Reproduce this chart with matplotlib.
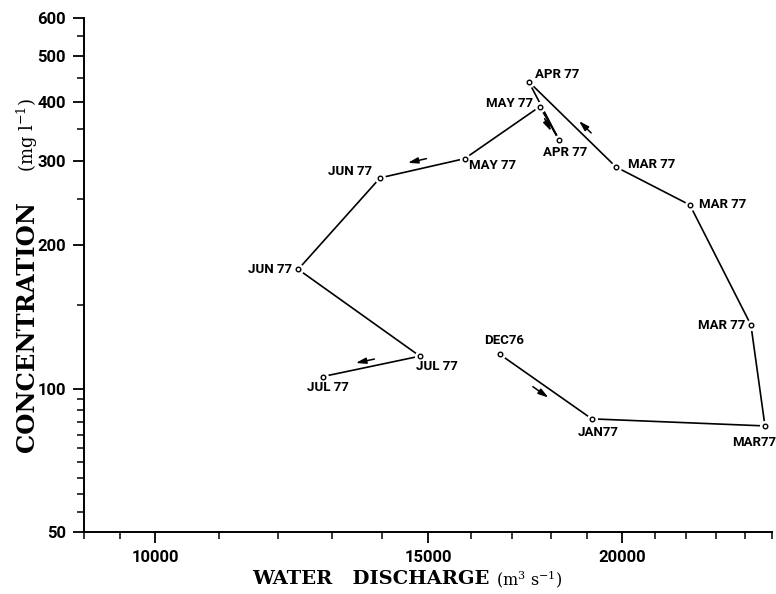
import numpy as np
import matplotlib
matplotlib.use('Agg')
import matplotlib.pyplot as plt

# Sampling dates along the hysteresis loop, Dec 1976 - Jul 1977
labels = ['DEC76', 'JAN77', 'MAR77', 'MAR 77', 'MAR 77', 'MAR 77', 'APR 77',
          'APR 77', 'MAY 77', 'MAY 77', 'JUN 77', 'JUN 77', 'JUL 77', 'JUL 77']
discharge = [16690, 19130, 24740, 24230, 22130, 19830, 17420,
             18220, 17710, 15840, 13970, 12370, 14820, 12830]      # m3 s-1
concentration = [118, 86.4, 83.5, 136, 243, 292, 441,
                 333, 391, 304, 277, 178, 117, 106]               # mg l-1

y_major = [50, 100, 200, 300, 400, 500, 600]
y_minor = [55, 60, 65, 70, 75, 80, 85, 90, 95, 150, 250, 350, 450, 550]
x_major = [10000, 15000, 20000]
x_minor = [9000, 9500, 11000, 12000, 13000, 14000, 16000, 17000, 18000,
           19000, 21000, 22000, 23000, 24000, 25000]

# label placement: (dx px, dy px, ha, va)
label_pos = [(4, 7, 'center', 'bottom'), (6, -7, 'center', 'top'),
             (-11, -10, 'center', 'top'), (-6, 0, 'right', 'center'),
             (9, 0, 'left', 'center'), (12, 2, 'left', 'center'),
             (6, 7, 'left', 'center'), (6, -6, 'center', 'top'),
             (-7, 3, 'right', 'center'), (4, -7, 'left', 'center'),
             (-8, 6, 'right', 'center'), (-6, 0, 'right', 'center'),
             (-4, -10, 'left', 'center'), (5, -4, 'center', 'top')]

# direction arrows: (segment start index, position along segment, side offset px, length px)
arrows = [(0, 0.49, -7.5, 19), (5, 0.41, -7, 17), (6, 0.72, -3, 14),
          (9, 0.54, -8.5, 19), (12, 0.55, -6.5, 19)]

plt.rcParams['mathtext.fontset'] = 'dejavuserif'
narrow = ['Roboto', 'DejaVu Sans']
heavy = ['DejaVu Serif']

fig = plt.figure(figsize=(7.76, 5.94), dpi=100)
ax = fig.add_axes([84 / 776, 62 / 594, 688 / 776, 514 / 594])
ax.set_xscale('log')
ax.set_yscale('log')
ax.set_xlim(9000, 25000)
ax.set_ylim(50, 600)

ax.plot(discharge, concentration, color='black', lw=1.2, zorder=2)
# white halo leaves a small gap between the line and each sample point
ax.plot(discharge, concentration, ls='none', marker='o', ms=7,
        mfc='white', mec='white', zorder=3)
ax.plot(discharge, concentration, ls='none', marker='o', ms=3.3,
        mfc='white', mec='black', mew=1.0, zorder=4)

for q, c, lab, (dx, dy, ha, va) in zip(discharge, concentration, labels, label_pos):
    ax.annotate(lab, (q, c), xytext=(dx, dy), textcoords='offset pixels',
                ha=ha, va=va, fontsize=9.5, fontweight='bold', family=narrow,
                annotation_clip=False, zorder=5)

fig.canvas.draw()
to_disp = ax.transData
to_data = ax.transData.inverted()
for i, t, off, length in arrows:
    p0 = to_disp.transform((discharge[i], concentration[i]))
    p1 = to_disp.transform((discharge[i + 1], concentration[i + 1]))
    u = (p1 - p0) / np.hypot(*(p1 - p0))
    n = np.array([-u[1], u[0]])
    mid = p0 + t * (p1 - p0) + off * n
    tail = to_data.transform(mid - u * length / 2)
    head = to_data.transform(mid + u * length / 2)
    ax.annotate('', xy=head, xytext=tail,
                arrowprops=dict(arrowstyle='-|>,head_length=0.6,head_width=0.18',
                                color='black', lw=1.1, shrinkA=0, shrinkB=0))

for side in ['top', 'right']:
    ax.spines[side].set_visible(False)
for side in ['left', 'bottom']:
    ax.spines[side].set_linewidth(1.4)

ax.set_yticks(y_major)
ax.set_yticks(y_minor, minor=True)
ax.set_yticklabels([str(v) for v in y_major])
ax.set_yticklabels([], minor=True)
ax.set_xticks(x_major)
ax.set_xticks(x_minor, minor=True)
ax.set_xticklabels([str(v) for v in x_major])
ax.set_xticklabels([], minor=True)
ax.tick_params(which='major', length=8, width=1.3, pad=5)
ax.tick_params(which='minor', length=5, width=1.1)
for tl in ax.get_xticklabels() + ax.get_yticklabels():
    tl.set_family(narrow)
    tl.set_fontweight('bold')
    tl.set_fontsize(12)

fig.text(490 / 776, 1 - 579 / 594, 'WATER   DISCHARGE', ha='right', va='center',
         family=heavy, fontweight='heavy', fontsize=14)
fig.text(496 / 776, 1 - 579 / 594, r'(m$^3$ s$^{-1}$)', ha='left', va='center',
         family=['DejaVu Serif'], fontsize=11.5)
fig.text(27 / 776, 1 - 452 / 594, 'CONCENTRATION', ha='center', va='bottom',
         rotation=90, family=heavy, fontweight='heavy', fontsize=17.5)
fig.text(27 / 776, 1 - 172 / 594, r'(mg l$^{-1}$)', ha='center', va='bottom',
         rotation=90, family=['DejaVu Serif'], fontsize=13)

fig.savefig('out.png', dpi=100)
